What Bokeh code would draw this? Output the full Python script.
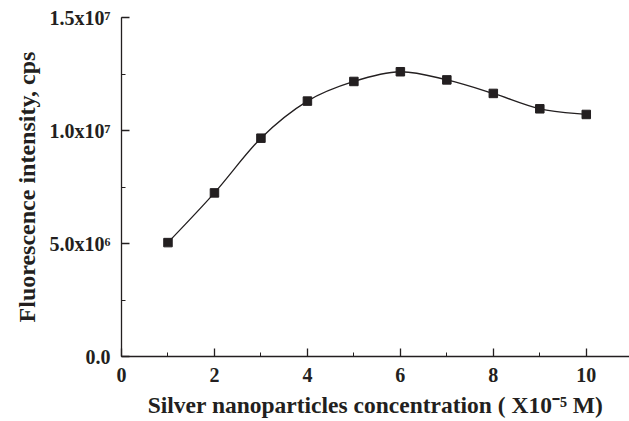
import numpy as np
from bokeh.plotting import figure
from bokeh.models import SingleIntervalTicker, Range1d
from bokeh.embed import file_html
from bokeh.resources import INLINE

# ---- data ----
conc = [1, 2, 3, 4, 5, 6, 7, 8, 9, 10]
intensity = [5.04e6, 7.24e6, 9.66e6, 1.13e7, 1.217e7, 1.26e7, 1.224e7, 1.164e7, 1.096e7, 1.071e7]
y_tick_vals = [0, 5e6, 1e7, 1.5e7]
y_tick_labels = ["0.0", "5.0x10\u2076", "1.0x10\u2077", "1.5x10\u2077"]
x_tick_vals = [0, 2, 4, 6, 8, 10]
x_tick_labels = ["0", "2", "4", "6", "8", "10"]
x_title = "Silver nanoparticles concentration ( X10\u207b\u2075 M)"
y_title = "Fluorescence intensity, cps"

FONT = "Liberation Serif"
INK = "#231f20"

p = figure(width=629, height=421, output_backend="svg", toolbar_location=None,
           x_range=Range1d(0, 10.93), y_range=Range1d(0, 1.5e7),
           min_border_left=121, min_border_right=0, min_border_top=17, min_border_bottom=65)
p.outline_line_color = None
p.grid.grid_line_color = None
p.background_fill_color = "white"

# smooth curve through points: Catmull-Rom bezier segments built from the data
x = np.array(conc, dtype=float)
y = np.array(intensity, dtype=float)
xp = np.concatenate([[x[0]], x, [x[-1]]])
yp = np.concatenate([[y[0]], y, [y[-1]]])
n = len(x)
x0 = x[:-1]; y0 = y[:-1]; x1 = x[1:]; y1 = y[1:]
cx0 = x0 + (xp[2:n+1] - xp[0:n-1]) / 6.0
cy0 = y0 + (yp[2:n+1] - yp[0:n-1]) / 6.0
cx1 = x1 - (xp[3:n+2] - xp[1:n]) / 6.0
cy1 = y1 - (yp[3:n+2] - yp[1:n]) / 6.0
p.bezier(x0=x0, y0=y0, x1=x1, y1=y1, cx0=cx0, cy0=cy0, cx1=cx1, cy1=cy1,
         line_color=INK, line_width=1.3)

p.scatter(conc, intensity, marker="square", size=8.5, fill_color=INK, line_color=INK)

# axes
xa = p.xaxis[0]
ya = p.yaxis[0]
xa.ticker = SingleIntervalTicker(interval=2, num_minor_ticks=2)
ya.ticker = SingleIntervalTicker(interval=5e6, num_minor_ticks=2)
xa.major_label_overrides = {v: s for v, s in zip(x_tick_vals, x_tick_labels)}
ya.major_label_overrides = {v: s for v, s in zip(y_tick_vals, y_tick_labels)}
for ax in (xa, ya):
    ax.axis_line_color = INK
    ax.axis_line_width = 1.3
    ax.major_tick_line_color = INK
    ax.minor_tick_line_color = INK
    ax.major_tick_line_width = 1.3
    ax.minor_tick_line_width = 1.0
    ax.major_tick_in = 8
    ax.major_tick_out = 0
    ax.minor_tick_in = 4
    ax.minor_tick_out = 0
    ax.major_label_text_font = FONT
    ax.major_label_text_font_style = "bold"
    ax.major_label_text_font_size = "20px"
    ax.major_label_text_color = INK
    ax.axis_label_text_font = FONT
    ax.axis_label_text_font_style = "bold"
    ax.axis_label_text_color = INK

xa.axis_label_text_font_size = "23.5px"
ya.axis_label_text_font_size = "24px"
xa.major_label_standoff = 11
ya.major_label_standoff = 11
xa.axis_label = x_title
ya.axis_label = y_title
xa.axis_label_standoff = 7
ya.axis_label_standoff = 7

open("out.html", "w").write(file_html(p, INLINE))
